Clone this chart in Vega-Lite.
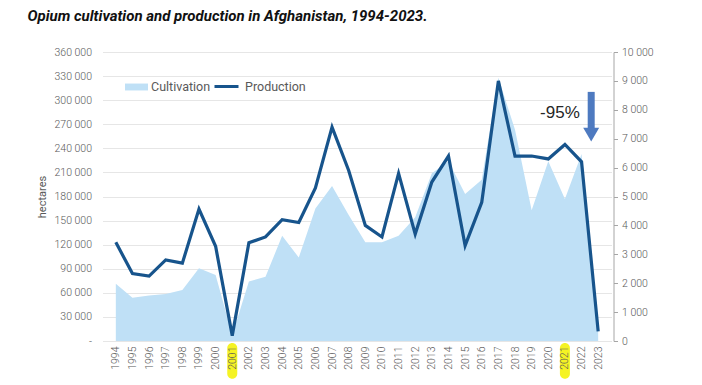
{
  "$schema": "https://vega.github.io/schema/vega-lite/v6.json",
  "width": 509,
  "height": 289,
  "autosize": {"type": "none"},
  "padding": {"left": 102.5, "top": 52, "right": 90.5, "bottom": 44},
  "background": "white",
  "title": {
    "text": "Opium cultivation and production in Afghanistan, 1994-2023.",
    "anchor": "start",
    "frame": "group",
    "dx": -75,
    "offset": 23,
    "font": "Roboto",
    "fontSize": 15,
    "fontStyle": "italic",
    "fontWeight": "bold",
    "color": "#111111"
  },
  "config": {
    "view": {"stroke": null},
    "axis": {"labelFont": "Roboto", "labelColor": "#595959", "labelFontSize": 10.5, "titleFont": "Roboto", "tickCount": 60},
    "legend": {"labelFont": "Roboto", "labelFontSize": 12.5, "labelColor": "#595959", "padding": 0}
  },
  "datasets": {
    "afg": [
      {"year": 1994, "cultivation": 71470, "production": 3416},
      {"year": 1995, "cultivation": 53759, "production": 2335},
      {"year": 1996, "cultivation": 56824, "production": 2248},
      {"year": 1997, "cultivation": 58416, "production": 2804},
      {"year": 1998, "cultivation": 63674, "production": 2693},
      {"year": 1999, "cultivation": 90583, "production": 4565},
      {"year": 2000, "cultivation": 82171, "production": 3276},
      {"year": 2001, "cultivation": 7606, "production": 185},
      {"year": 2002, "cultivation": 74100, "production": 3400},
      {"year": 2003, "cultivation": 80000, "production": 3600},
      {"year": 2004, "cultivation": 131000, "production": 4200},
      {"year": 2005, "cultivation": 104000, "production": 4100},
      {"year": 2006, "cultivation": 165000, "production": 5300},
      {"year": 2007, "cultivation": 193000, "production": 7400},
      {"year": 2008, "cultivation": 157000, "production": 5900},
      {"year": 2009, "cultivation": 123000, "production": 4000},
      {"year": 2010, "cultivation": 123000, "production": 3600},
      {"year": 2011, "cultivation": 131000, "production": 5800},
      {"year": 2012, "cultivation": 154000, "production": 3700},
      {"year": 2013, "cultivation": 209000, "production": 5500},
      {"year": 2014, "cultivation": 224000, "production": 6400},
      {"year": 2015, "cultivation": 183000, "production": 3300},
      {"year": 2016, "cultivation": 201000, "production": 4800},
      {"year": 2017, "cultivation": 328000, "production": 9000},
      {"year": 2018, "cultivation": 263000, "production": 6400},
      {"year": 2019, "cultivation": 163000, "production": 6400},
      {"year": 2020, "cultivation": 224000, "production": 6300},
      {"year": 2021, "cultivation": 177000, "production": 6800},
      {"year": 2022, "cultivation": 233000, "production": 6200},
      {"year": 2023, "cultivation": 10800, "production": 333}
    ],
    "highlight": [{"year": 2001}, {"year": 2021}]
  },
  "layer": [
    {
      "layer": [
        {
          "data": {"name": "highlight"},
          "mark": {"type": "bar", "color": "#f4f20c", "size": 10, "cornerRadius": 5, "opacity": 0.9},
          "encoding": {
            "x": {"field": "year", "type": "quantitative"},
            "y": {"datum": -2500, "type": "quantitative"},
            "y2": {"datum": -47000}
          }
        },
        {
          "data": {"name": "afg"},
          "mark": {"type": "area", "interpolate": "linear"},
          "encoding": {
            "x": {
              "field": "year", "type": "quantitative",
              "scale": {"domain": [1993.5, 2023.5], "nice": false, "zero": false},
              "axis": {
                "title": null, "values": [1994,1995,1996,1997,1998,1999,2000,2001,2002,2003,2004,2005,2006,2007,2008,2009,2010,2011,2012,2013,2014,2015,2016,2017,2018,2019,2020,2021,2022,2023],
                "tickCount": 60, "zindex": 2,
                "format": "d", "labelAngle": -90, "grid": false, "ticks": false, "domain": false,
                "labelOverlap": false, "labelFlush": false, "labelBound": false,
                "labelPadding": 5, "labelFontSize": 10.5, "labelFontWeight": 300
              }
            },
            "y": {
              "field": "cultivation", "type": "quantitative",
              "scale": {"domain": [0, 360000], "nice": false},
              "axis": {
                "title": "hectares", "titleFontWeight": "normal", "titleFontSize": 11, "titleColor": "#595959", "titlePadding": 6,
                "values": [0,30000,60000,90000,120000,150000,180000,210000,240000,270000,300000,330000,360000],
                "tickCount": 60, "zindex": 0,
                "labelExpr": "datum.value == 0 ? '-' : replace(format(datum.value, ','), ',', ' ')",
                "labelOverlap": false, "labelFlush": false, "labelBound": false,
                "grid": true, "gridColor": "#e6e6e6", "domain": false, "ticks": false, "labelPadding": 11, "labelFontWeight": 300
              }
            },
            "fill": {
              "datum": "Cultivation",
              "scale": {"range": ["#bfe0f6"]},
              "legend": {
                "orient": "none", "legendX": 22.5, "legendY": 23.5, "title": null, "direction": "horizontal",
                "symbolType": "M-1,-0.3H1V0.3H-1Z", "symbolSize": 529, "symbolStrokeWidth": 0, "labelOffset": 3
              }
            }
          }
        }
      ]
    },
    {
      "layer": [
        {
          "data": {"name": "afg"},
          "mark": {"type": "line", "strokeWidth": 3.2, "strokeJoin": "miter"},
          "encoding": {
            "x": {"field": "year", "type": "quantitative"},
            "y": {
              "field": "production", "type": "quantitative",
              "scale": {"domain": [0, 10000], "nice": false},
              "axis": {
                "orient": "right", "title": null, "offset": 2,
                "values": [0,1000,2000,3000,4000,5000,6000,7000,8000,9000,10000],
                "tickCount": 60,
                "labelExpr": "replace(format(datum.value, ','), ',', ' ')",
                "labelOverlap": false, "labelFlush": false, "labelBound": false,
                "grid": false, "domain": true, "domainColor": "#a6a6a6", "ticks": true, "tickColor": "#a6a6a6", "tickSize": 4,
                "labelPadding": 4, "labelFontWeight": 300
              }
            },
            "stroke": {
              "datum": "Production",
              "scale": {"range": ["#17548c"]},
              "legend": {
                "orient": "none", "legendX": 110.5, "legendY": 21, "title": null, "direction": "horizontal",
                "symbolType": "stroke", "symbolSize": 576, "symbolStrokeWidth": 3, "labelOffset": 5
              }
            }
          }
        },
        {
          "data": {"values": [{}]},
          "mark": {"type": "rule", "color": "#4e7ac0", "strokeWidth": 7},
          "encoding": {
            "x": {"datum": 2022.58, "type": "quantitative"},
            "y": {"datum": 8620, "type": "quantitative"},
            "y2": {"datum": 7250}
          }
        },
        {
          "data": {"values": [{}]},
          "mark": {"type": "point", "shape": "triangle-down", "filled": true, "color": "#4e7ac0", "size": 256, "opacity": 1},
          "encoding": {
            "x": {"datum": 2022.58, "type": "quantitative"},
            "y": {"datum": 7140, "type": "quantitative"}
          }
        },
        {
          "data": {"values": [{"label": "-95%"}]},
          "mark": {"type": "text", "font": "Liberation Sans", "fontSize": 17, "color": "#262626", "align": "center", "baseline": "middle"},
          "encoding": {
            "x": {"datum": 2020.7, "type": "quantitative"},
            "y": {"datum": 7900, "type": "quantitative"},
            "text": {"field": "label"}
          }
        }
      ]
    }
  ],
  "resolve": {"scale": {"y": "independent"}}
}
